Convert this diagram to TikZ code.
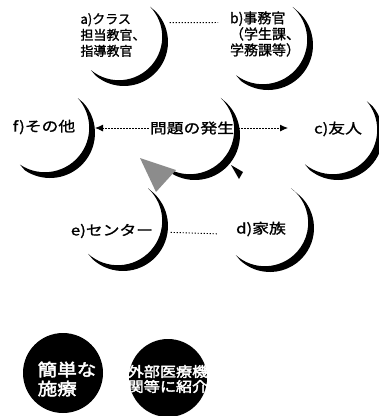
\documentclass[tikz,border=0pt]{standalone}
\usepackage{fontspec}
\newfontfamily\jp{Noto Sans CJK JP}[FakeBold=1.2]
\newfontfamily\jpw{Noto Sans CJK JP}[FakeStretch=1.2,FakeBold=1.2]
\newfontfamily\jpb{Noto Sans CJK JP}[FakeBold=2.5,FakeStretch=1.15]
\usetikzlibrary{calc,arrows.meta}
\newcommand\mycres[4]{\fill[black] (#1.center) ++(#3:#2) arc[start angle=#3,end angle=#4,radius=#2] -- ($(#1.center)+(-5.2,-5.2)+(#4:#2-0.6)$) arc[start angle=#4,end angle=#3,radius=#2-0.6] -- cycle;}
\tikzset{
  cring/.style={circle,inner sep=0pt,outer sep=0pt,minimum size=#1},
  lbls/.style={inner sep=1pt,align=left,font=\jp\fontsize{13}{16}\selectfont},
  lblb/.style={inner sep=1pt,align=left,font=\jp\fontsize{14}{16}\selectfont},
  lblw/.style={inner sep=1pt,font=\jpw\fontsize{14}{16}\selectfont},
  dotline/.style={line width=0.9pt,dash pattern=on 1.4pt off 1.6pt},
  tipa/.style={-{Latex[length=8pt,width=7pt]}},
  bcirc/.style={circle,fill=black,inner sep=0pt,outer sep=0pt},
  btxt/.style={text=white,inner sep=0pt,align=left},
}
\begin{document}
\begin{tikzpicture}[x=1pt,y=-1pt]
\useasboundingbox (0,0) rectangle (379,416);
\begin{scope}
\clip (0,0) rectangle (379,416);
% invisible rings (crescent centres)
\node[cring=88] (ar) at (124,42) {};
\node[cring=90] (br) at (268,45) {};
\node[cring=90] (fr) at (50,133) {};
\node[cring=90] (mr) at (195,135) {};
\node[cring=90] (cr) at (338,135) {};
\node[cring=90] (er) at (123,226) {};
\node[cring=88] (dr) at (270,228) {};
% crescents
\mycres{ar}{44}{-44}{130}
\mycres{br}{45}{-48}{127}
\mycres{fr}{45}{-42}{124}
\mycres{mr}{45}{-46}{120}
\mycres{cr}{45}{-40}{129}
\mycres{er}{45}{-47}{132}
\mycres{dr}{44}{-53}{132}
% texts
\node[lbls] (at) at (113,35) {a)クラス\\担当教官、\\指導教官};
\node[lblb] (bt) at (265,34) {b)事務官\\（学生課、\\学務課等）};
\node[lblw] (ft) at (44,127) {f)その他};
\node[lblw] (mt) at (192,128) {問題の発生};
\node[lblw] (ct) at (338,129) {c)友人};
\node[lblw] (et) at (112,231) {e)センター};
\node[lblw] (dt) at (261,229) {d)家族};
% connectors
\draw[dotline,shorten <=6pt,shorten >=11pt] (ar.26) -- (br.150);
\draw[dotline,tipa] (mt.west) -- (mt.west -| fr.east);
\draw[dotline,tipa,shorten >=5pt] (mt.east) -- (mt.east -| cr.west);
\draw[dotline,shorten <=3pt,shorten >=9pt] (er.-8) -- (dr.188);
% arrowheads
\fill[black!45] (140,158) -- (176,170) -- (156,192) -- cycle;
\fill[black] (231,165) -- (243,172) -- (239,179) -- cycle;
% bottom circles
\node[bcirc,minimum size=80] (s1) at (63,373) {};
\node[btxt,font=\jpb\fontsize{17}{19}\selectfont] (s1t) at (67,379) {簡単な\\施療};
\node[bcirc,minimum size=78] (s2) at (168,378) {};
\node[btxt,font=\jpb\fontsize{14}{15}\selectfont] (s2t) at (168,379) {外部医療機\\関等に紹介};
\end{scope}
\end{tikzpicture}
\end{document}
